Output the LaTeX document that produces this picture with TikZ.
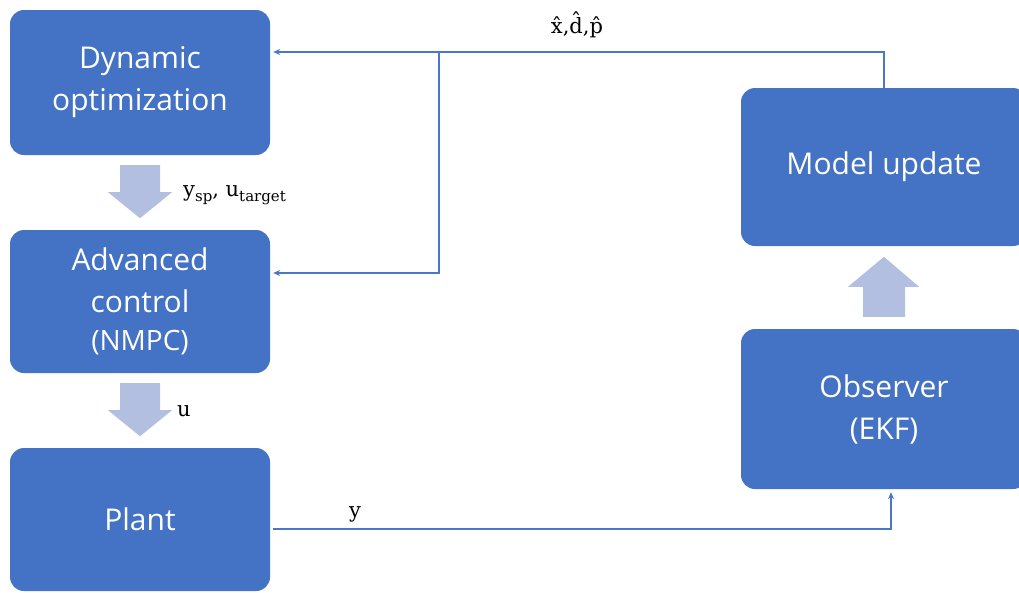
\documentclass[tikz,border=0pt]{standalone}
\usepackage{fontspec}
\setsansfont{Open Sans}
\newfontfamily\labelfont{DejaVu Serif}
\usetikzlibrary{arrows.meta,calc}
\definecolor{boxblue}{HTML}{4472C4}
\definecolor{flowblue}{HTML}{B2BFE0}
\definecolor{linkblue}{HTML}{4A77C8}
% lowered, smaller text for signal subscripts
\newcommand{\sigsub}[1]{\raisebox{-5pt}{\fontsize{15}{15}\selectfont #1}}
% estimated quantity: letter with a circumflex above it
\newcommand{\est}[1]{\accent"02C6 #1}
\begin{document}
\begin{tikzpicture}[x=1pt,y=-1pt,
  block/.style={fill=boxblue, rounded corners=14pt, text=white,
    font=\sffamily\fontsize{30}{42}\selectfont, align=center,
    minimum width=260pt, inner sep=0pt},
  link/.style={draw=linkblue, line width=1.3pt, -{Stealth[length=7pt,width=6pt]}},
  flow/.style={fill=flowblue},
  lab/.style={font=\labelfont\fontsize{21}{25}\selectfont, inner sep=0pt},
  pics/downflow/.style={code={
    \fill[flow] (-20,0) -- (20,0) -- (20,27) -- (32,27) -- (0,53)
      -- (-32,27) -- (-20,27) -- cycle;}}]
\useasboundingbox (0,0) rectangle (1019,592);

% processing blocks
\node[block, minimum height=145pt] (dyn) at (140,82.5) {Dynamic\\optimization};
\node[block, minimum height=143pt] (adv) at (140,301.5)
  {Advanced\\control\\[-4pt]{\fontsize{28}{36}\selectfont(NMPC)}};
\node[block, minimum height=143pt] (plant) at (140,519.5) {Plant};
\node[block, minimum width=286pt, minimum height=158pt] (model) at (884,167) {Model update};
\node[block, minimum width=286pt, minimum height=160pt] (obs) at (884,409) {Observer\\(EKF)};

% wide flow arrows between blocks
\pic at ($(dyn.south)+(0,10)$) {downflow};
\pic at ($(adv.south)+(0,10)$) {downflow};
\fill[flow] ($(obs.north)+(-21,-12)$) -- ($(obs.north)+(21,-12)$)
  -- ($(obs.north)+(21,-42)$) -- ($(obs.north)+(35,-42)$)
  -- ($(obs.north)+(0,-72)$) -- ($(obs.north)+(-36,-42)$)
  -- ($(obs.north)+(-21,-42)$) -- cycle;

% signal connectors
\coordinate (fork) at (439,52);
\draw[link] (model.north) |- (fork) -- ($(dyn.east |- fork)+(3,0)$);
\draw[link] (fork) |- ($(adv.east)+(3,-28.5)$);
\draw[link] ($(plant.east)+(3,9.5)$) -| ($(obs.south)+(7,3)$);

% signal labels
\node[lab, anchor=base] (lest) at (577,33) {\est{x},\est{d},\est{p}};
\node[lab, anchor=base west] (lsp) at (183,196) {y\sigsub{sp}, u\sigsub{target}};
\node[lab, anchor=base west] (lu) at (177,416) {u};
\node[lab, anchor=base] (ly) at (355,517) {y};
\end{tikzpicture}
\end{document}
